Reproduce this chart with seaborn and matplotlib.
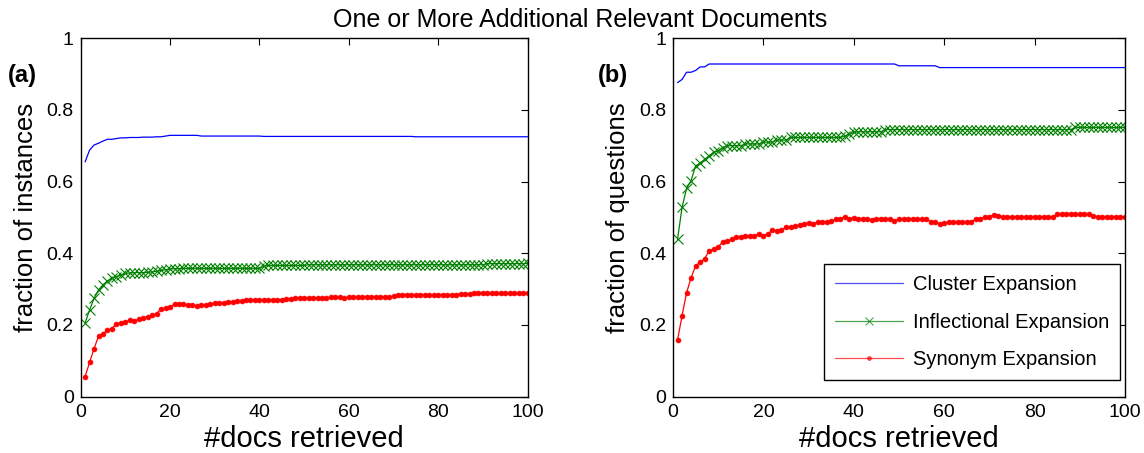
import matplotlib

matplotlib.use("Agg")
import matplotlib.pyplot as plt
import numpy as np
import seaborn as sns

docs = np.arange(1, 101)

# (a) fraction of instances
inst_cluster = (
    [0.655, 0.688, 0.702, 0.707, 0.713, 0.718, 0.718, 0.720, 0.722, 0.722,
     0.723, 0.723, 0.723, 0.724, 0.724, 0.724, 0.725, 0.725, 0.727, 0.729]
    + [0.729] * 6 + [0.727] * 14 + [0.726] * 34 + [0.725] * 26
)
inst_inflect = (
    [0.206, 0.242, 0.274, 0.298, 0.312, 0.323, 0.330, 0.335, 0.339, 0.344,
     0.345, 0.346, 0.346, 0.346, 0.347, 0.348, 0.350, 0.352, 0.354, 0.356,
     0.357, 0.357]
    + [0.358] * 18 + [0.364] + [0.366] * 9 + [0.368] * 40 + [0.371] * 9 + [0.372]
)
inst_synonym = [
    0.056, 0.096, 0.134, 0.169, 0.176, 0.185, 0.190, 0.204, 0.205, 0.208,
    0.213, 0.210, 0.216, 0.219, 0.223, 0.227, 0.232, 0.245, 0.247, 0.251,
    0.258, 0.258, 0.258, 0.256, 0.255, 0.254, 0.255, 0.256, 0.258, 0.260,
    0.261, 0.262, 0.263, 0.265, 0.266, 0.267, 0.269, 0.271, 0.270, 0.270,
    0.270, 0.270, 0.271, 0.271, 0.270, 0.272, 0.273, 0.274, 0.274, 0.274,
    0.275, 0.275, 0.276, 0.276, 0.276, 0.277, 0.277, 0.277, 0.276, 0.277,
    0.277, 0.278, 0.278, 0.278, 0.278, 0.279, 0.279, 0.279, 0.279, 0.280,
    0.283, 0.285, 0.285, 0.284, 0.284, 0.284, 0.284, 0.284, 0.283, 0.284,
    0.284, 0.284, 0.285, 0.285, 0.286, 0.286, 0.287, 0.290, 0.290, 0.289,
    0.289, 0.289, 0.289, 0.289, 0.289, 0.289, 0.289, 0.289, 0.289, 0.289,
]

# (b) fraction of questions
quest_cluster = (
    [0.876, 0.885, 0.905, 0.905, 0.910, 0.920, 0.920]
    + [0.928] * 42 + [0.923] * 9 + [0.918] * 42
)
quest_inflect = (
    [0.439, 0.528, 0.581, 0.603, 0.644, 0.651, 0.662, 0.672, 0.682, 0.686,
     0.695, 0.700, 0.700, 0.700, 0.700, 0.705, 0.705, 0.705, 0.705, 0.710,
     0.710, 0.710, 0.716, 0.716, 0.716]
    + [0.723] * 12 + [0.727, 0.732, 0.737, 0.739] + [0.739] * 5
    + [0.745] * 42 + [0.751] * 12
)
quest_synonym = [
    0.158, 0.226, 0.290, 0.332, 0.365, 0.375, 0.385, 0.407, 0.413, 0.418,
    0.432, 0.433, 0.440, 0.445, 0.445, 0.449, 0.449, 0.449, 0.454, 0.449,
    0.455, 0.464, 0.463, 0.465, 0.472, 0.473, 0.477, 0.478, 0.482, 0.485,
    0.482, 0.488, 0.488, 0.488, 0.490, 0.495, 0.497, 0.502, 0.497, 0.498,
    0.497, 0.497, 0.496, 0.493, 0.496, 0.496, 0.496, 0.496, 0.490, 0.496,
    0.496, 0.496, 0.496, 0.496, 0.496, 0.497, 0.488, 0.487, 0.481, 0.485,
    0.486, 0.486, 0.486, 0.486, 0.486, 0.486, 0.497, 0.497, 0.500, 0.502,
    0.508, 0.505, 0.502, 0.502, 0.502, 0.502, 0.502, 0.501, 0.501, 0.502,
    0.502, 0.502, 0.502, 0.502, 0.509, 0.509, 0.509, 0.509, 0.509, 0.509,
    0.509, 0.509, 0.503, 0.502, 0.502, 0.502, 0.502, 0.502, 0.502, 0.502,
]

series_names = ["Cluster Expansion", "Inflectional Expansion", "Synonym Expansion"]
x_ticks = [0, 20, 40, 60, 80, 100]
y_ticks = [0, 0.2, 0.4, 0.6, 0.8, 1]
y_tick_labels = ["0", "0.2", "0.4", "0.6", "0.8", "1"]

sns.set_style("white")
plt.rcParams["font.family"] = ["Liberation Sans", "DejaVu Sans"]
plt.rcParams["text.color"] = "black"
plt.rcParams["axes.labelcolor"] = "black"
plt.rcParams["xtick.color"] = "black"
plt.rcParams["ytick.color"] = "black"

fig = plt.figure(figsize=(11.44, 4.53), dpi=100)
ax_a = fig.add_axes([0.0705, 0.1243, 0.3907, 0.7914])
ax_b = fig.add_axes([0.5883, 0.1243, 0.3951, 0.7914])


def draw_panel(ax, cluster, inflect, synonym, ylabel, with_labels):
    lab = series_names if with_labels else [None, None, None]
    sns.lineplot(x=docs, y=cluster, ax=ax, color="#0000ff", linewidth=0.9,
                 label=lab[0], legend=False)
    sns.lineplot(x=docs, y=inflect, ax=ax, color="#008000", linewidth=0.9,
                 marker="x", markersize=7, markeredgecolor="#008000",
                 markeredgewidth=0.8, label=lab[1], legend=False)
    sns.lineplot(x=docs, y=synonym, ax=ax, color="#ff0000", linewidth=0.9,
                 marker="o", markersize=3.5, markeredgecolor="#ff0000",
                 markerfacecolor="#ff0000", markeredgewidth=0.5,
                 label=lab[2], legend=False)
    ax.set_xlim(0, 100)
    ax.set_ylim(0, 1)
    ax.set_xticks(x_ticks)
    ax.set_yticks(y_ticks)
    ax.set_yticklabels(y_tick_labels)
    ax.tick_params(direction="in", top=True, right=True, length=5,
                   width=0.8, labelsize=14, color="black", pad=5)
    for s in ax.spines.values():
        s.set_color("black")
        s.set_linewidth(1.0)
    ax.set_xlabel("#docs retrieved", fontsize=21, labelpad=3)
    ax.set_ylabel(ylabel, fontsize=18.5, labelpad=6)


draw_panel(ax_a, inst_cluster, inst_inflect, inst_synonym,
           "fraction of instances", False)
draw_panel(ax_b, quest_cluster, quest_inflect, quest_synonym,
           "fraction of questions", True)

leg = ax_b.legend(loc="lower right", bbox_to_anchor=(0.99, 0.046),
                  borderaxespad=0, fontsize=14.5, fancybox=False,
                  framealpha=1, edgecolor="black", handlelength=3.4,
                  labelspacing=0.92, borderpad=0.55, handletextpad=0.5,
                  numpoints=1)
leg.get_frame().set_linewidth(1.0)
for h in leg.get_lines():
    h.set_alpha(0.7)
    h.set_markersize(h.get_markersize() * 0.8)

fig.text(0.507, 0.956, "One or More Additional Relevant Documents",
         ha="center", va="center", fontsize=18)
fig.text(0.007, 0.834, "(a)", ha="left", va="center", fontsize=17,
         fontweight="bold")
fig.text(0.523, 0.834, "(b)", ha="left", va="center", fontsize=17,
         fontweight="bold")

fig.savefig("out.png", dpi=100)
